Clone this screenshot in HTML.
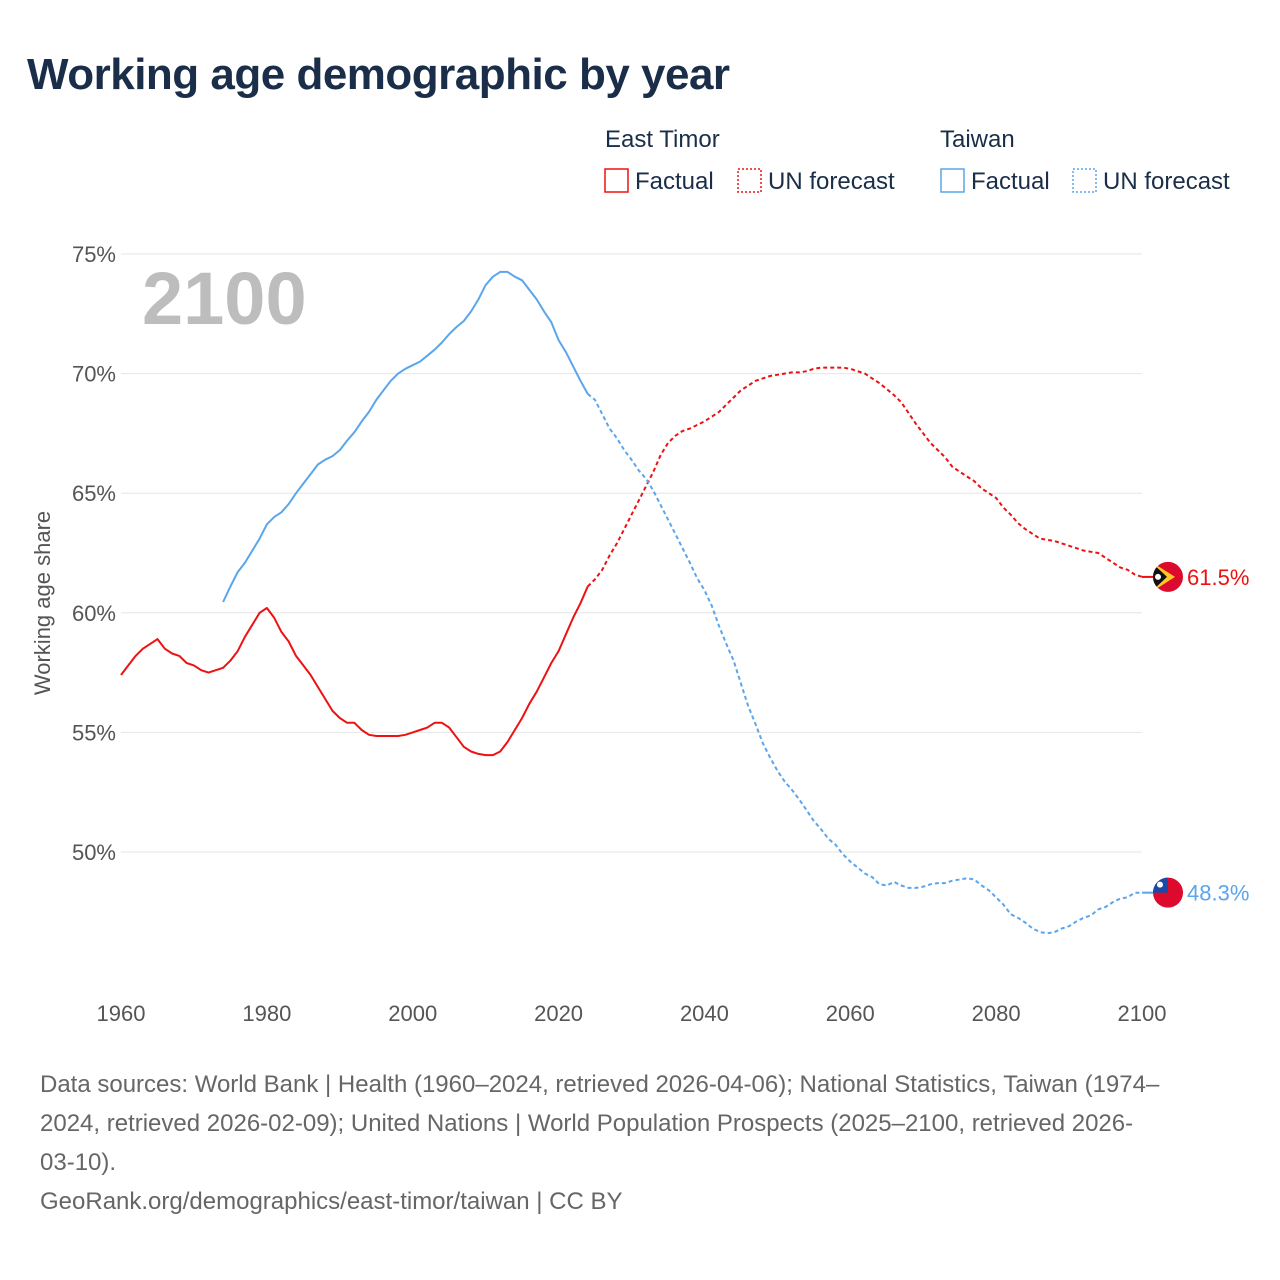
<!DOCTYPE html>
<html><head><meta charset="utf-8">
<style>
html,body{margin:0;padding:0;background:#fff;width:1280px;height:1280px;overflow:hidden;font-family:"Liberation Sans",sans-serif;}
.t{position:absolute;white-space:nowrap;}
</style></head>
<body>
<div class="t" style="left:27px;top:50px;font-size:44px;font-weight:bold;color:#1a2e4a;letter-spacing:-0.5px">Working age demographic by year</div>
<svg id="chart" width="1280" height="1280" style="position:absolute;left:0;top:0"></svg>
<div class="t" style="left:40px;top:1065px;font-size:24px;line-height:39px;color:#666;">Data sources: World Bank | Health (1960–2024, retrieved 2026-04-06); National Statistics, Taiwan (1974–<br>2024, retrieved 2026-02-09); United Nations | World Population Prospects (2025–2100, retrieved 2026-<br>03-10).<br>GeoRank.org/demographics/east-timor/taiwan | CC BY</div>
<script>
const etFactualYears=[1960,1961,1962,1963,1964,1965,1966,1967,1968,1969,1970,1971,1972,1973,1974,1975,1976,1977,1978,1979,1980,1981,1982,1983,1984,1985,1986,1987,1988,1989,1990,1991,1992,1993,1994,1995,1996,1997,1998,1999,2000,2001,2002,2003,2004,2005,2006,2007,2008,2009,2010,2011,2012,2013,2014,2015,2016,2017,2018,2019,2020,2021,2022,2023,2024];
const etFactual=[57.4,57.8,58.2,58.5,58.7,58.9,58.5,58.3,58.2,57.9,57.8,57.6,57.5,57.6,57.7,58.0,58.4,59.0,59.5,60.0,60.2,59.8,59.2,58.8,58.2,57.8,57.4,56.9,56.4,55.9,55.6,55.4,55.4,55.1,54.9,54.85,54.85,54.85,54.85,54.9,55.0,55.1,55.2,55.4,55.4,55.2,54.8,54.4,54.2,54.1,54.05,54.05,54.2,54.6,55.1,55.6,56.2,56.7,57.3,57.9,58.4,59.1,59.8,60.4,61.1];
const etForecast=[61.1,61.4,61.8,62.4,62.9,63.5,64.1,64.7,65.3,65.9,66.6,67.1,67.4,67.6,67.7,67.85,68.0,68.2,68.4,68.7,69.0,69.3,69.5,69.7,69.8,69.9,69.95,70.0,70.05,70.05,70.1,70.2,70.25,70.25,70.25,70.25,70.2,70.1,70.0,69.8,69.6,69.35,69.1,68.8,68.35,67.9,67.5,67.1,66.8,66.5,66.1,65.9,65.7,65.5,65.2,65.0,64.8,64.4,64.1,63.75,63.5,63.3,63.1,63.05,63.0,62.9,62.8,62.7,62.6,62.55,62.5,62.3,62.1,61.9,61.8,61.6,61.5];
const twFactual=[60.45,61.1,61.7,62.1,62.6,63.1,63.7,64.0,64.2,64.55,65.0,65.4,65.8,66.2,66.4,66.55,66.8,67.2,67.55,68.0,68.4,68.9,69.3,69.7,70.0,70.2,70.35,70.5,70.75,71.0,71.3,71.65,71.95,72.2,72.6,73.1,73.7,74.05,74.25,74.25,74.05,73.9,73.5,73.1,72.6,72.15,71.4,70.9,70.3,69.7,69.15];
const twForecast=[69.15,68.9,68.3,67.7,67.3,66.8,66.4,65.95,65.6,65.1,64.5,63.9,63.3,62.7,62.1,61.45,60.95,60.3,59.45,58.7,58.0,57.05,56.1,55.35,54.55,53.95,53.4,52.95,52.6,52.2,51.75,51.3,50.95,50.55,50.3,49.9,49.6,49.35,49.1,48.95,48.65,48.6,48.75,48.6,48.5,48.5,48.55,48.65,48.7,48.7,48.8,48.85,48.9,48.85,48.6,48.4,48.1,47.8,47.4,47.25,47.05,46.8,46.65,46.6,46.65,46.8,46.9,47.1,47.25,47.35,47.6,47.7,47.9,48.05,48.1,48.3,48.3];
const yTicks=[50,55,60,65,70,75];
const xTicks=[1960,1980,2000,2020,2040,2060,2080,2100];

const svg=document.getElementById('chart');
const NS='http://www.w3.org/2000/svg';
const xS=y=>121+(y-1960)*(1142-121)/140;
const yS=v=>852-(v-50)*(852-254)/25;
function mk(tag,attrs,parent){const e=document.createElementNS(NS,tag);for(const k in attrs)e.setAttribute(k,attrs[k]);(parent||svg).appendChild(e);return e;}

yTicks.forEach(v=>{
  const g=mk('line',{x1:121,x2:1142,y1:yS(v),y2:yS(v),stroke:'#e6e6e6','stroke-width':1});
  
  
  const t=mk('text',{x:116,y:yS(v)+8,'text-anchor':'end','font-size':22,fill:'#555','font-family':'Liberation Sans, sans-serif'});
  t.textContent=v+'%';
  
  
});
xTicks.forEach(y=>{
  const t=mk('text',{x:xS(y),y:1021,'text-anchor':'middle','font-size':22,fill:'#555','font-family':'Liberation Sans, sans-serif'});
  t.textContent=y;
  
  
});
const yt=mk('text',{x:0,y:0,transform:'translate(50,603) rotate(-90)','text-anchor':'middle','font-size':22,fill:'#555','font-family':'Liberation Sans, sans-serif'});
yt.textContent='Working age share';


const yr=mk('text',{x:142,y:324,'font-size':74,'font-weight':'bold',fill:'#bdbdbd','font-family':'Liberation Sans, sans-serif'});
yr.textContent='2100';



function line(years,vals,color,dash,name){
  const d=vals.map((v,i)=>(i?'L':'M')+xS(years[i]).toFixed(1)+','+yS(v).toFixed(1)).join('');
  const p=mk('path',{d:d,fill:'none',stroke:color,'stroke-width':2,'stroke-dasharray':dash||'none','stroke-linejoin':'round'});
  
  
}
const fYears=[];for(let y=2024;y<=2100;y++)fYears.push(y);
const twYears=[];for(let y=1974;y<=2024;y++)twYears.push(y);
line(etFactualYears,etFactual,'#ee1111',null,'east-timor-factual-line');
line(fYears,etForecast,'#ee1111','4,3','east-timor-forecast-line');
line(twYears,twFactual,'#5aa5ec',null,'taiwan-factual-line');
line(fYears,twForecast,'#5aa5ec','4,3','taiwan-forecast-line');

const etY=yS(etForecast[etForecast.length-1]), twY=yS(twForecast[twForecast.length-1]);
mk('line',{x1:1142,x2:1153,y1:etY,y2:etY,stroke:'#ee1111','stroke-width':2});
mk('line',{x1:1142,x2:1153,y1:twY,y2:twY,stroke:'#5aa5ec','stroke-width':2});
const defs=mk('defs',{});
const c1=mk('clipPath',{id:'c1'},defs);mk('circle',{cx:1168,cy:etY,r:15},c1);
const c2=mk('clipPath',{id:'c2'},defs);mk('circle',{cx:1168,cy:twY,r:15},c2);
const f1=mk('g',{'clip-path':'url(#c1)'});


mk('rect',{x:1150,y:etY-16,width:36,height:32,fill:'#dc0a2c'},f1);
mk('polygon',{points:`1150,${etY-16} 1175,${etY} 1150,${etY+16}`,fill:'#ffc726'},f1);
mk('polygon',{points:`1150,${etY-16} 1167,${etY} 1150,${etY+16}`,fill:'#111'},f1);
mk('circle',{cx:1158,cy:etY,r:3,fill:'#fff'},f1);
const f2=mk('g',{'clip-path':'url(#c2)'});


mk('rect',{x:1150,y:twY-16,width:36,height:32,fill:'#dc0a2c'},f2);
mk('rect',{x:1150,y:twY-16,width:18,height:16,fill:'#1a4aa8'},f2);
mk('circle',{cx:1160,cy:twY-8,r:3,fill:'#fff'},f2);
const l1=mk('text',{x:1187,y:etY+8,'font-size':22,fill:'#ee1111','font-family':'Liberation Sans, sans-serif'});
l1.textContent='61.5%';


const l2=mk('text',{x:1187,y:twY+8,'font-size':22,fill:'#5aa5ec','font-family':'Liberation Sans, sans-serif'});
l2.textContent='48.3%';



function legendBox(x,color,dash,label,name){
  const g=mk('g',{});
  
  
  mk('rect',{x:x+1,y:169,width:23,height:23,fill:'none',stroke:color,'stroke-width':1.5,'stroke-dasharray':dash||'none'},g);
  const t=mk('text',{x:x+31,y:189,'font-size':24,fill:'#1a2e4a','font-family':'Liberation Sans, sans-serif'},g);
  t.textContent=label;
}
function legendHead(x,label,name){
  const t=mk('text',{x:x,y:147,'font-size':24,fill:'#1a2e4a','font-family':'Liberation Sans, sans-serif'});
  t.textContent=label;
  
  
}
legendHead(605,'East Timor','legend-east-timor-title');
legendHead(940,'Taiwan','legend-taiwan-title');
legendBox(604,'#ee1111',null,'Factual','legend-east-timor-factual');
legendBox(737,'#ee1111','2,2','UN forecast','legend-east-timor-forecast');
legendBox(940,'#5aa5ec',null,'Factual','legend-taiwan-factual');
legendBox(1072,'#5aa5ec','2,2','UN forecast','legend-taiwan-forecast');
</script>
</body></html>
